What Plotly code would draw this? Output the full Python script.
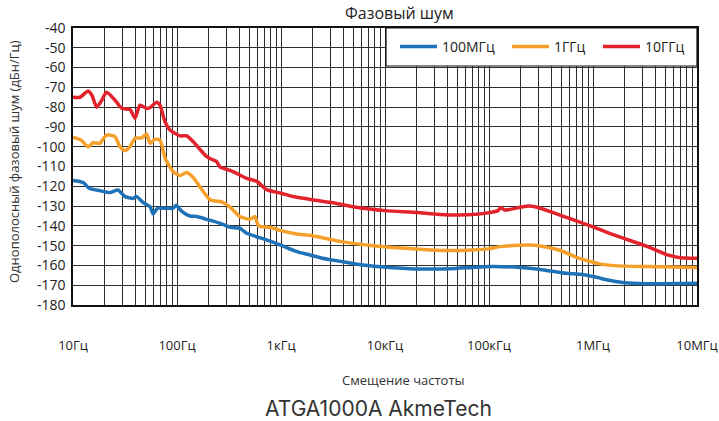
import plotly.graph_objects as go

# ---------------- data ----------------
freq_100mhz = [10, 12.5, 14.3, 18.1, 22.7, 27, 31.7, 38, 40.7, 47.4, 55, 59, 65, 78.6, 92, 98,
               112, 133, 155, 193, 260, 324, 402, 468, 680, 978, 1420, 1900, 2500, 3900, 6100,
               11000, 22000, 42000, 70000, 101000, 200000, 310000, 550000, 750000, 1.0e6,
               1.15e6, 1.28e6, 2.0e6, 3.35e6, 1.0e7]
noise_100mhz = [-117.1, -118.1, -121, -122.2, -123.2, -121.9, -125.2, -126.1, -125.2, -128.3,
                -130.3, -134, -131.1, -131.1, -131.1, -129.6, -132.8, -135, -135.3, -136.7,
                -138.7, -140.7, -141.2, -143.7, -146.6, -149.6, -153, -154.7, -156.4, -158.1,
                -159.8, -161, -161.8, -161.7, -161, -160.6, -161, -162, -164, -164.5, -165.6,
                -166.3, -167, -168.7, -169.2, -169]

freq_1ghz = [10, 11.9, 14, 15.6, 18.1, 21, 25.3, 28.3, 31.7, 35.3, 39.5, 45.8, 51, 55, 61, 68.6,
             76.8, 92, 107, 124, 143, 167, 209, 260, 279, 324, 402, 505, 560, 610, 785, 978,
             1420, 1900, 2500, 3900, 7700, 14500, 28000, 42000, 70000, 101000, 128000, 200000,
             250000, 310000, 470000, 750000, 1.0e6, 1.15e6, 1.59e6, 3.35e6, 1.0e7]
noise_1ghz = [-95.2, -96.6, -100, -98, -98.3, -94.1, -94.9, -100, -102, -100, -95.7, -95.5,
              -93.6, -98.3, -96.3, -96.6, -105.8, -112.6, -114.5, -113, -115.5, -120.5, -126.9,
              -127.7, -128.3, -130.5, -135.3, -136.7, -135.3, -140, -140.7, -142.3, -144.1,
              -144.8, -146, -148.1, -150, -151.2, -152.2, -152.5, -152.2, -151.5, -150.5,
              -149.8, -149.7, -150.2, -152.2, -156.6, -158.4, -159.2, -160.1, -160.6, -161]

freq_10ghz = [10, 11.7, 14, 15.2, 16.9, 18.9, 21, 25.3, 29.4, 35.3, 39.5, 44, 51, 55, 63.6, 68.6,
              76.8, 85.6, 107, 124, 143, 167, 193, 223, 240, 260, 324, 374, 468, 585, 728, 1000,
              1310, 2000, 3160, 5300, 10000, 20200, 33600, 70000, 101000, 122000, 130000,
              142000, 200000, 240000, 290000, 390000, 650000, 1.0e6, 1.59e6, 3.35e6,
              5.2e6, 7.0e6, 1.0e7]
noise_10ghz = [-75, -75, -71.8, -74, -80, -76.5, -72.5, -76.4, -80.6, -81.2, -85.6, -79, -80.6,
               -80.3, -77.5, -79, -87.5, -91.5, -94.5, -94.5, -97.4, -101.5, -105, -106.7,
               -107.5, -110.3, -112, -113.5, -116, -117.5, -121.7, -123.5, -125.2, -126.8,
               -128.3, -130.6, -132.3, -133.2, -134.2, -134.3, -133.3, -132.3, -130.8, -132,
               -130.6, -130, -130.6, -132.8, -137, -140.5, -144.6, -150.5, -154.7,
               -156.1, -156.4]

series_names = ["100МГц", "1ГГц", "10ГГц"]
series_colors = ["#1f72b8", "#f5a02a", "#e3232c"]
legend_widths = [60, 39, 45]

decade_values = [10, 100, 1000, 10000, 100000, 1000000, 10000000]
decade_labels = ["10Гц", "100Гц", "1кГц", "10кГц", "100кГц", "1МГц", "10МГц"]
y_ticks = list(range(-40, -181, -10))
y_tick_labels = [str(v) for v in y_ticks]

title_text = "Фазовый шум"
x_title = "Смещение частоты"
y_title = "Однополосный фазовый шум (дБн/Гц)"
caption_text = "ATGA1000A AkmeTech"

# ------------- grid ticks (all 1..9 multiples) -------------
tickvals, ticktext = [], []
for i, d in enumerate(decade_values):
    if i == len(decade_values) - 1:
        tickvals.append(d)
        ticktext.append(decade_labels[i])
        break
    for m in range(1, 10):
        tickvals.append(d * m)
        ticktext.append(decade_labels[i] if m == 1 else "")

FONT = "Open Sans"

fig = go.Figure()
series = [(freq_100mhz, noise_100mhz), (freq_1ghz, noise_1ghz), (freq_10ghz, noise_10ghz)]
for (f, v), n, c, lw in zip(series, series_names, series_colors, legend_widths):
    fig.add_trace(go.Scatter(x=f, y=v, name=n, mode="lines", legendwidth=lw,
                             line=dict(color=c, width=3.5, shape="spline", smoothing=0.6)))

W, H = 719, 421
L, R, T, B = 73, 22, 28, 116
pw, ph = W - L - R, H - T - B

def px_x(x):
    return (x - L) / pw

def px_y(y):
    return (H - B - y) / ph

fig.update_layout(
    width=W, height=H,
    margin=dict(l=L, r=R, t=T, b=B, autoexpand=False),
    paper_bgcolor="white", plot_bgcolor="white",
    font=dict(family=FONT, size=13, color="#222"),
    showlegend=True,
    legend=dict(orientation="h", x=px_x(395), y=px_y(47), xanchor="left", yanchor="middle",
                itemwidth=37,
                bgcolor="rgba(0,0,0,0)", borderwidth=0, font=dict(size=14, color="#222")),
    xaxis=dict(type="log", range=[1, 7], tickvals=tickvals, ticktext=ticktext,
               automargin=False,
               showgrid=True, gridcolor="#2e2e2e", gridwidth=1,
               showline=True, linecolor="#111", linewidth=1.5, mirror=True,
               ticks="", ticklabelstandoff=28, tickfont=dict(size=13, color="#222"),
               zeroline=False),
    yaxis=dict(range=[-180, -40], tickvals=y_ticks, ticktext=y_tick_labels, automargin=False,
               showgrid=True, gridcolor="#2e2e2e", gridwidth=1,
               showline=True, linecolor="#111", linewidth=1.5, mirror=True,
               ticks="", ticklabelstandoff=3, tickfont=dict(size=14, color="#222"),
               zeroline=False),
    shapes=[dict(type="rect", xref="paper", yref="paper",
                 x0=px_x(386), x1=1, y0=px_y(66), y1=1,
                 fillcolor="white", line=dict(color="#111", width=1.2), layer="above")],
    annotations=[
        dict(text=title_text, xref="paper", yref="paper", x=px_x(399), y=px_y(13),
             xanchor="center", yanchor="middle", showarrow=False,
             font=dict(size=16, color="#222", family=FONT)),
        dict(text=y_title, xref="paper", yref="paper", x=px_x(14), y=px_y(162),
             xanchor="center", yanchor="middle", showarrow=False, textangle=-90,
             font=dict(size=13, color="#333", family=FONT)),
        dict(text=x_title, xref="paper", yref="paper", x=px_x(403), y=px_y(380),
             xanchor="center", yanchor="middle", showarrow=False,
             font=dict(size=13, color="#333", family=FONT)),
        dict(text=caption_text, xref="paper", yref="paper", x=px_x(378), y=px_y(408),
             xanchor="center", yanchor="middle", showarrow=False,
             font=dict(size=21, color="#333", family="Inter")),
    ],
)

fig.write_html("out.html", config={"displayModeBar": False},
               post_script="document.body.style.margin='0';")
